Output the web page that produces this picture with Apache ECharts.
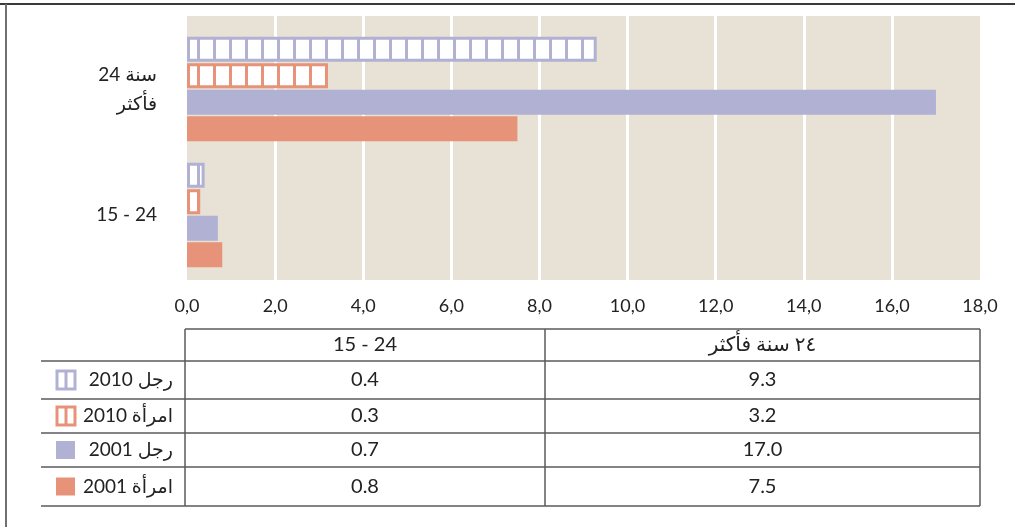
<!DOCTYPE html>
<html>
<head>
    <meta charset="utf-8">
    <title>chart</title>
    <script src="https://cdn.jsdelivr.net/npm/echarts@6/dist/echarts.min.js"></script>
    <style>
        html, body { margin: 0; padding: 0; background: #fff; }
        #main { width: 1015px; height: 527px; }
    </style>
</head>
<body>
    <div id="main"></div>
    <script>
        // data
        var categories = ['15 - 24', '\u202A24 سنة\u202C\nفأكثر'];
        var tableHeaders = ['15 - 24', '٢٤ سنة فأكثر'];
        var seriesNames = ['رجل 2010', 'امرأة 2010', 'رجل 2001', 'امرأة 2001'];
        var men2010 = [0.4, 9.3];
        var women2010 = [0.3, 3.2];
        var men2001 = [0.7, 17.0];
        var women2001 = [0.8, 7.5];
        var xMin = 0, xMax = 18, xStep = 2;

        var font = 'Lato, "DejaVu Sans", sans-serif';
        var purple = '#b0b1d3';
        var salmon = '#e6937a';

        function hatch(color) {
            var c = document.createElement('canvas');
            c.width = 16; c.height = 8;
            var ctx = c.getContext('2d');
            ctx.fillStyle = '#fff';
            ctx.fillRect(0, 0, 16, 8);
            ctx.fillStyle = color;
            ctx.fillRect(0, 0, 3, 8);
            return { image: c, repeat: 'repeat', x: 5 };
        }

        var seriesData = [men2010, women2010, men2001, women2001];
        var styles = [
            { color: hatch(purple), borderColor: purple, borderWidth: 3, hatched: true, base: purple },
            { color: hatch(salmon), borderColor: salmon, borderWidth: 3, hatched: true, base: salmon },
            { color: purple, borderWidth: 0, base: purple },
            { color: salmon, borderWidth: 0, base: salmon }
        ];

        var chart = echarts.init(document.getElementById('main'));

        var series = seriesNames.map(function (name, i) {
            return {
                name: name,
                type: 'bar',
                xAxisIndex: 1,
                yAxisIndex: 1,
                data: seriesData[i],
                barWidth: 25,
                barGap: '6%',
                itemStyle: {
                    color: styles[i].color,
                    borderColor: styles[i].borderColor,
                    borderWidth: styles[i].borderWidth
                }
            };
        });

        // table below the chart
        var colX = [185, 545, 980];
        var rowY = [329, 361, 399, 433, 467, 506];
        var lineStyle = { stroke: '#5a5a5a', lineWidth: 1.5 };
        var g = [];
        // frame
        g.push({ type: 'line', shape: { x1: 0, y1: 4, x2: 1015, y2: 4 }, style: { stroke: '#3a3a3a', lineWidth: 2 } });
        g.push({ type: 'line', shape: { x1: 6, y1: 4, x2: 6, y2: 527 }, style: { stroke: '#707070', lineWidth: 2 } });
        g.push({ type: 'line', shape: { x1: colX[0], y1: rowY[0], x2: colX[2], y2: rowY[0] }, style: lineStyle });
        for (var r = 1; r < rowY.length; r++) {
            g.push({ type: 'line', shape: { x1: 41, y1: rowY[r], x2: colX[2], y2: rowY[r] }, style: lineStyle });
        }
        colX.forEach(function (x) {
            g.push({ type: 'line', shape: { x1: x, y1: rowY[0], x2: x, y2: rowY[rowY.length - 1] }, style: lineStyle });
        });
        tableHeaders.forEach(function (h, c) {
            g.push({
                type: 'text', x: (colX[c] + colX[c + 1]) / 2, y: (rowY[0] + rowY[1]) / 2,
                style: { text: h, font: '20px ' + font, fill: '#222', align: 'center', verticalAlign: 'middle' }
            });
        });
        seriesNames.forEach(function (name, i) {
            var cy = (rowY[i + 1] + rowY[i + 2]) / 2;
            var st = styles[i];
            if (st.hatched) {
                g.push({ type: 'rect', shape: { x: 57, y: cy - 9, width: 18, height: 18 }, style: { fill: '#fff', stroke: st.base, lineWidth: 3 } });
                g.push({ type: 'line', shape: { x1: 66, y1: cy - 9, x2: 66, y2: cy + 9 }, style: { stroke: st.base, lineWidth: 3 } });
            } else {
                g.push({ type: 'rect', shape: { x: 56, y: cy - 9, width: 19, height: 18 }, style: { fill: st.base } });
            }
            g.push({
                type: 'text', x: 173, y: cy,
                // right-to-left embedding so the year sits left of the word
                style: { text: '\u202B' + name + '\u202C', font: '19px ' + font, fill: '#222', align: 'right', verticalAlign: 'middle' }
            });
            seriesData[i].forEach(function (v, c) {
                g.push({
                    type: 'text', x: (colX[c] + colX[c + 1]) / 2, y: cy,
                    style: { text: v.toFixed(1), font: '20px ' + font, fill: '#222', align: 'center', verticalAlign: 'middle' }
                });
            });
        });

        var option = {
            animation: false,
            textStyle: { fontFamily: font },
            grid: [
                { left: 187, right: 35, top: 16, height: 264, show: true, backgroundColor: '#e8e1d5', borderWidth: 0 },
                { left: 187, right: 35, top: 26, height: 252 }
            ],
            xAxis: [
                {
                    gridIndex: 0, type: 'value', min: xMin, max: xMax, interval: xStep,
                    axisLine: { show: false }, axisTick: { show: false },
                    axisLabel: {
                        margin: 17, fontSize: 18, color: '#222', fontFamily: font,
                        formatter: function (v) { return v.toFixed(1).replace('.', ','); }
                    },
                    splitLine: { show: true, showMinLine: false, showMaxLine: false, lineStyle: { color: '#ffffff', width: 3 } }
                },
                { gridIndex: 1, type: 'value', min: xMin, max: xMax, show: false, splitLine: { show: false } }
            ],
            yAxis: [
                { gridIndex: 0, type: 'category', data: categories, show: false },
                {
                    gridIndex: 1, type: 'category', data: categories,
                    axisLine: { show: false }, axisTick: { show: false },
                    axisLabel: {
                        margin: 30, fontSize: 19, color: '#222', lineHeight: 29, fontFamily: font,
                        align: 'right', padding: [0, 0, 10, 0]
                    }
                }
            ],
            series: series,
            graphic: g
        };

        chart.setOption(option);
    </script>
</body>
</html>
